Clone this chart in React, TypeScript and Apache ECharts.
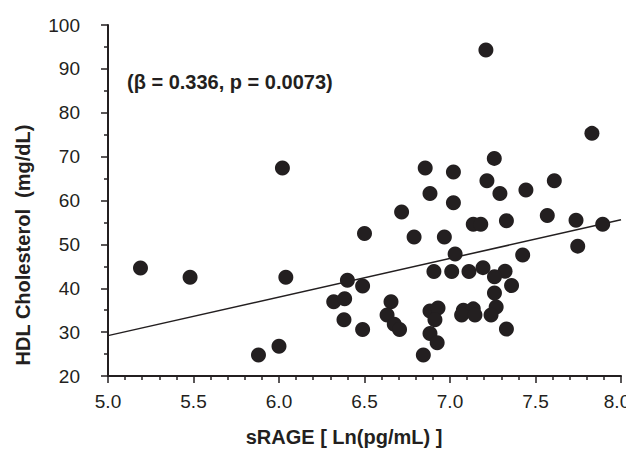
import React, { useEffect, useRef } from "react";
import * as echarts from "echarts";

const sRAGE = [
  5.19, 5.48, 6.02, 6.04, 5.88, 6.0, 7.21, 7.83, 6.855, 7.02,
  6.883, 7.02, 6.717, 6.5, 6.79, 6.967, 7.03, 7.259, 7.216, 7.292,
  7.444, 7.61, 7.136, 7.18, 7.33, 7.569, 7.737, 7.893, 7.747, 7.425,
  6.4, 6.489, 6.906, 7.01, 7.111, 7.193, 7.322, 7.26, 7.36, 7.26,
  7.27, 7.24, 7.33, 6.32, 6.384, 6.38, 6.489, 6.655, 6.632, 6.674,
  6.705, 6.883, 6.93, 6.912, 6.883, 6.925, 6.844, 7.078, 7.136, 7.068,
  7.146,
];
const hdl = [
  44.6, 42.5, 67.4, 42.5, 24.8, 26.8, 94.3, 75.3, 67.4, 66.5,
  61.6, 59.5, 57.4, 52.5, 51.7, 51.7, 47.8, 69.6, 64.5, 61.6,
  62.4, 64.5, 54.6, 54.6, 55.4, 56.6, 55.5, 54.6, 49.6, 47.6,
  41.8, 40.5, 43.8, 43.8, 43.8, 44.7, 43.9, 42.6, 40.6, 38.9,
  35.7, 33.9, 30.7, 36.9, 37.6, 32.8, 30.6, 36.9, 33.9, 31.8,
  30.6, 34.8, 35.5, 32.8, 29.7, 27.6, 24.8, 35.0, 35.3, 33.9,
  33.9,
];
const fitX = [5.0, 8.0];
const fitY = [29.2, 55.6];
const xTicks = ["5.0", "5.5", "6.0", "6.5", "7.0", "7.5", "8.0"];
const annotation = "(β = 0.336, p = 0.0073)";
const xTitle = "sRAGE [ Ln(pg/mL) ]";
const yTitle = "HDL Cholesterol  (mg/dL)";

const INK = "#231f20";
const FONT = "Liberation Sans, Arial, Helvetica, sans-serif";

export default function App() {
  const ref = useRef<HTMLDivElement>(null);
  useEffect(() => {
    if (!ref.current) return;
    const chart = echarts.init(ref.current, undefined, { renderer: "svg" });
    const points = sRAGE.map((x, i) => [x, hdl[i]]);
    const fit = fitX.map((x, i) => [x, fitY[i]]);
    chart.setOption({
      animation: false,
      backgroundColor: "#ffffff",
      grid: { left: 100, right: 21, top: 17, bottom: 91 },
      xAxis: {
        type: "value",
        min: 5,
        max: 8,
        interval: 0.5,
        splitLine: { show: false },
        axisLine: { show: true, lineStyle: { color: INK, width: 2 } },
        axisTick: { show: true, inside: false, length: 7, lineStyle: { color: INK, width: 1.5 } },
        minorTick: { show: true, splitNumber: 5, length: 4, lineStyle: { color: INK, width: 1.5 } },
        axisLabel: {
          color: INK,
          fontFamily: FONT,
          fontSize: 19,
          margin: 16,
          formatter: (v: number) => {
            const idx = Math.round((v - 5) / 0.5);
            const t = xTicks[idx] ?? "";
            return idx === xTicks.length - 1 ? `{last|${t}}` : t;
          },
          rich: {
            last: { fontSize: 19, fontFamily: FONT, color: INK, padding: [0, 8, 0, 0] },
          },
        },
      },
      yAxis: {
        type: "value",
        min: 20,
        max: 100,
        interval: 10,
        splitLine: { show: false },
        axisLine: { show: true, lineStyle: { color: INK, width: 2 } },
        axisTick: { show: true, inside: false, length: 7, lineStyle: { color: INK, width: 1.5 } },
        minorTick: { show: true, splitNumber: 2, length: 4, lineStyle: { color: INK, width: 1.5 } },
        axisLabel: { color: INK, fontFamily: FONT, fontSize: 19, margin: 28 },
      },
      graphic: [
        {
          type: "text",
          x: 119,
          y: 74,
          style: {
            text: annotation,
            fill: INK,
            font: `bold 20px ${FONT}`,
            textVerticalAlign: "middle",
          },
        },
        {
          type: "text",
          x: 336,
          y: 429,
          style: {
            text: xTitle,
            fill: INK,
            font: `bold 20px ${FONT}`,
            textAlign: "center",
            textVerticalAlign: "middle",
          },
        },
        {
          type: "text",
          x: 15,
          y: 237,
          rotation: Math.PI / 2,
          style: {
            text: yTitle,
            fill: INK,
            font: `bold 20px ${FONT}`,
            textAlign: "center",
            textVerticalAlign: "middle",
          },
        },
      ],
      series: [
        {
          type: "line",
          data: fit,
          symbol: "none",
          lineStyle: { color: INK, width: 1.5 },
          z: 1,
        },
        {
          type: "scatter",
          data: points,
          symbol: "circle",
          symbolSize: 15,
          itemStyle: { color: INK, opacity: 1 },
          z: 2,
        },
      ],
    });
    return () => chart.dispose();
  }, []);
  return <div ref={ref} style={{ width: 634, height: 459 }} />;
}
